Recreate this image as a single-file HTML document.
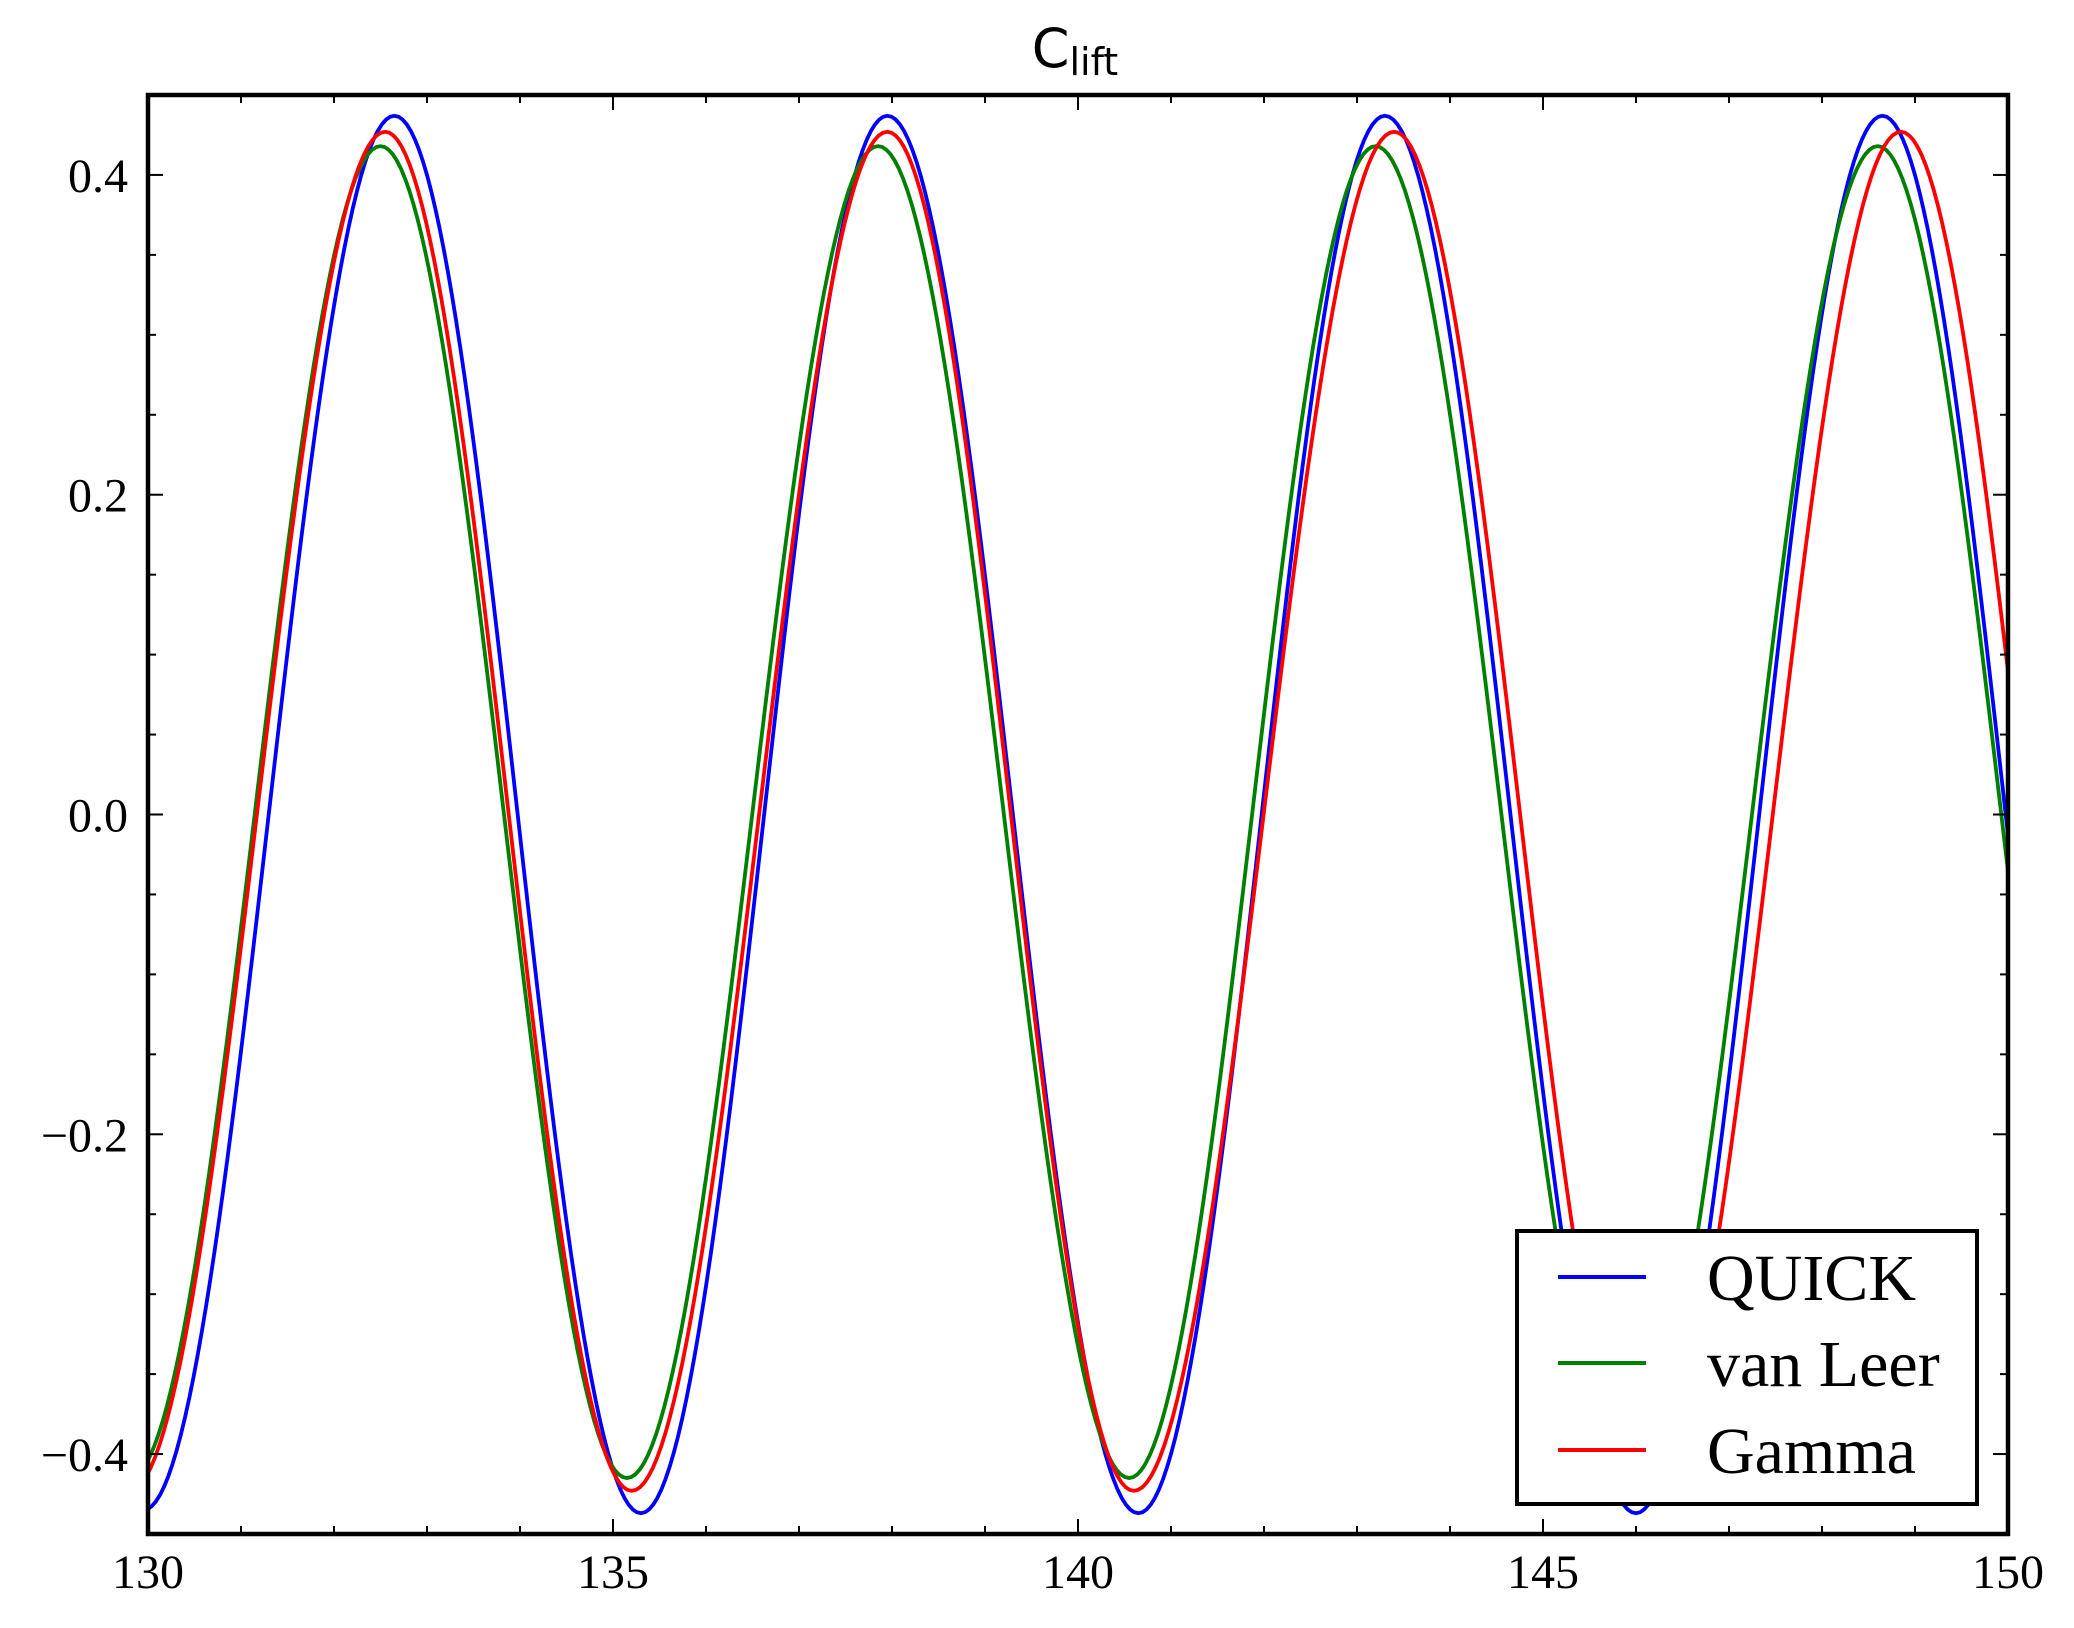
<!DOCTYPE html>
<html><head><meta charset="utf-8"><style>
html,body{margin:0;padding:0;background:#fff;}
svg{display:block;}
text{font-family:"Liberation Serif",serif;fill:#000;}
</style></head><body>
<svg id="chart" width="2074" height="1628" viewBox="0 0 2074 1628" xmlns="http://www.w3.org/2000/svg">
<rect width="2074" height="1628" fill="#fff"/>
<text x="1075" y="67" text-anchor="middle" style="font-family:'DejaVu Sans','Liberation Sans',sans-serif;font-size:54px;">C<tspan dy="8" style="font-size:38px;">lift</tspan></text>
<defs><clipPath id="plotclip"><rect x="148" y="95" width="1860" height="1439"/></clipPath></defs>
<g id="series" clip-path="url(#plotclip)"></g>
<g id="ticks"></g>
<rect x="148" y="95" width="1860" height="1439" fill="none" stroke="#000" stroke-width="4.5"/>
<g>
<rect x="1517" y="1231" width="460" height="273" fill="#fff" stroke="#000" stroke-width="4"/>
<line x1="1558" y1="1277" x2="1646" y2="1277" stroke="#0000ff" stroke-width="4"/>
<text x="1707" y="1300" style="font-size:66px;">QUICK</text>
<line x1="1558" y1="1363" x2="1646" y2="1363" stroke="#008000" stroke-width="4"/>
<text x="1707" y="1386" style="font-size:66px;">van Leer</text>
<line x1="1558" y1="1450" x2="1646" y2="1450" stroke="#ff0000" stroke-width="4"/>
<text x="1707" y="1473" style="font-size:66px;">Gamma</text>
</g>
</svg>
<script>
// extrema (time, value)
const quickT = [129.95,132.65,135.3,137.95,140.65,143.3,146.0,148.65,151.3];
const quickV = [-0.435,0.437,-0.437,0.437,-0.437,0.437,-0.437,0.437,-0.437];
const vanLeerT = [129.8,132.5,135.15,137.85,140.55,143.2,145.9,148.6,151.25];
const vanLeerV = [-0.415,0.418,-0.415,0.418,-0.415,0.418,-0.415,0.418,-0.415];
const gammaT = [129.8,132.55,135.2,137.95,140.6,143.4,146.1,148.85,151.5];
const gammaV = [-0.423,0.427,-0.423,0.427,-0.423,0.427,-0.423,0.427,-0.423];
const xTicks = [130,135,140,145,150];
const xTickLabels = ["130","135","140","145","150"];
const yTicks = [-0.4,-0.2,0.0,0.2,0.4];
const yTickLabels = ["\u22120.4","\u22120.2","0.0","0.2","0.4"];

const NS="http://www.w3.org/2000/svg";
const X0=148,X1=2008,Y0=95,Y1=1534, XMIN=130,XMAX=150,YMIN=-0.45,YMAX=0.45;
const sx=v=>X0+(v-XMIN)/(XMAX-XMIN)*(X1-X0);
const sy=v=>Y1-(v-YMIN)/(YMAX-YMIN)*(Y1-Y0);

function drawSeries(T,V,color,name){
  let d="";
  for(let i=0;i<T.length-1;i++){
    const n=60;
    for(let k=0;k<=n;k++){
      if(i>0&&k===0)continue;
      const t=T[i]+(T[i+1]-T[i])*k/n;
      const v=V[i]+(V[i+1]-V[i])*(1-Math.cos(Math.PI*k/n))/2;
      d+=(d?"L":"M")+sx(t).toFixed(2)+","+sy(v).toFixed(2);
    }
  }
  const p=document.createElementNS(NS,"path");
  p.setAttribute("d",d);p.setAttribute("fill","none");p.setAttribute("stroke",color);p.setAttribute("stroke-width","3.8");
  
  
  document.getElementById("series").appendChild(p);
}
drawSeries(quickT,quickV,"#0000ff","quick-line");
drawSeries(vanLeerT,vanLeerV,"#008000","van-leer-line");
drawSeries(gammaT,gammaV,"#ff0000","gamma-line");

const tg=document.getElementById("ticks");
function ln(x1,y1,x2,y2,name){
  const l=document.createElementNS(NS,"line");
  l.setAttribute("x1",x1);l.setAttribute("y1",y1);l.setAttribute("x2",x2);l.setAttribute("y2",y2);
  l.setAttribute("stroke","#000");l.setAttribute("stroke-width","2");
  
  
  tg.appendChild(l);
}
function tx(x,y,s,anchor,name){
  const t=document.createElementNS(NS,"text");
  t.setAttribute("x",x);t.setAttribute("y",y);t.setAttribute("text-anchor",anchor);
  t.setAttribute("style","font-size:48px;");t.textContent=s;
  
  
  tg.appendChild(t);
}
for(let v=XMIN;v<=XMAX;v+=1){
  const major=(v%5===0), L=major?15:8, x=sx(v);
  ln(x,Y1,x,Y1-L,"x-tick");ln(x,Y0,x,Y0+L,"x-tick-top");
}
for(let i=-9;i<=9;i++){
  const v=i*0.05, major=(i%4===0), L=major?15:8, y=sy(v);
  ln(X0,y,X0+L,y,"y-tick");ln(X1,y,X1-L,y,"y-tick-right");
}
xTicks.forEach((v,i)=>tx(sx(v),1588,xTickLabels[i],"middle","x-tick-label"));
yTicks.forEach((v,i)=>tx(128,sy(v)+17,yTickLabels[i],"end","y-tick-label"));
</script>
</body></html>
